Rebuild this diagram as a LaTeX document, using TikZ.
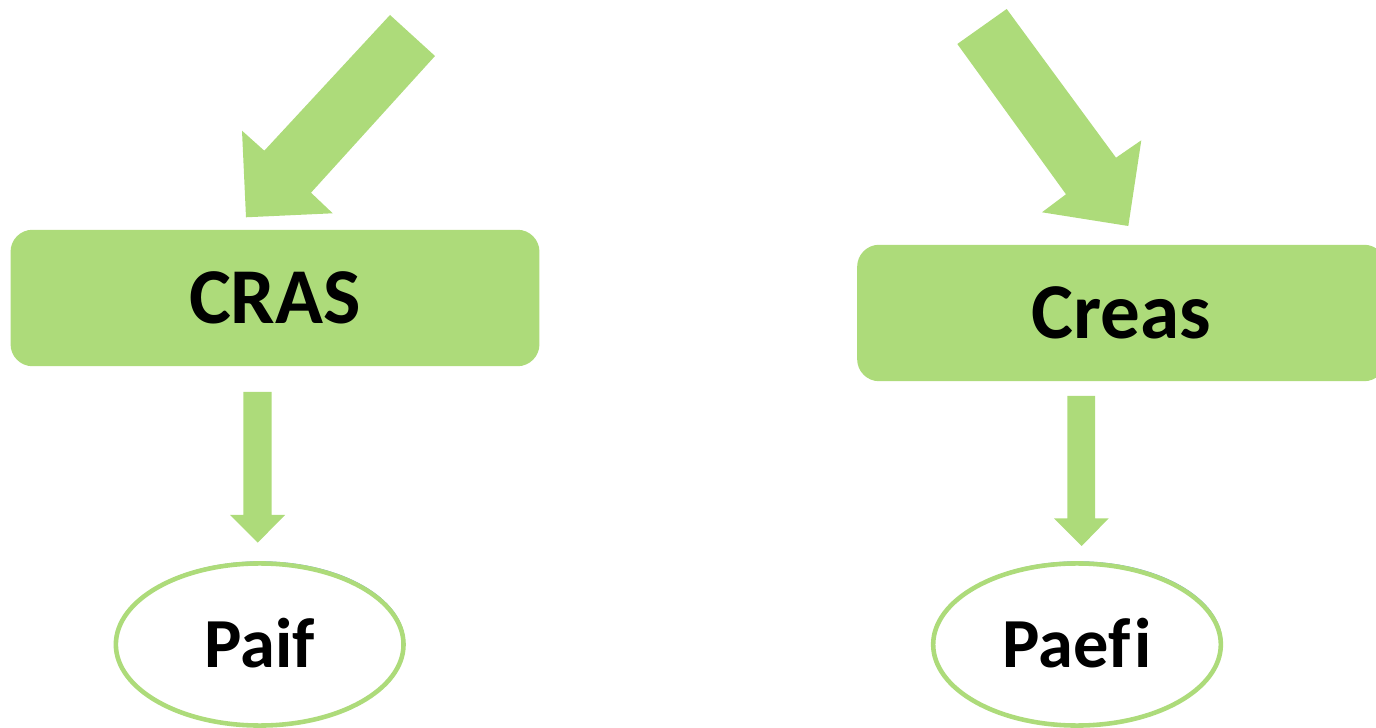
\documentclass[tikz,border=0pt]{standalone}
\usepackage{fontspec}
\setmainfont{Carlito}[Ligatures=CommonOff]
\definecolor{lgreen}{RGB}{173,219,122}
\definecolor{edgeblue}{RGB}{120,160,210}
\tikzset{
  box/.style={fill=lgreen, rounded corners=0.22cm, inner sep=0pt,
    minimum width=5.286cm, minimum height=1.364cm,
    font=\fontsize{22.5}{26}\selectfont\bfseries, text height=14.5pt, text depth=0pt},
  oval/.style={ellipse, draw=lgreen, line width=1.3pt, fill=white, inner sep=0pt,
    minimum width=2.875cm, minimum height=1.62cm,
    font=\fontsize{20}{24}\selectfont\bfseries, text height=12.9pt, text depth=0pt},
  blockarrow/.style={fill=lgreen, draw=none}
}
\usetikzlibrary{shapes.geometric}
\begin{document}
\begin{tikzpicture}[x=0.01cm,y=-0.01cm]
\useasboundingbox (0,0) rectangle (1376,728);
\begin{scope}
\clip (0,0) rectangle (1376,728);
% boxes
\node[box] (cras) at (275,298) {CRAS};
\node[box] (creas) at (1121.6,313) {Creas};
% ellipses
\draw[edgeblue, line width=0.3pt] (260.6,643.3) ellipse [x radius=144, y radius=81.5];
\draw[edgeblue, line width=0.3pt] (1078,643.3) ellipse [x radius=144, y radius=81.5];
\node[oval] (paif) at (259.7,644.5) {Paif};
\node[oval] (paefi) at (1077,644.5) {Paef\kern1pt i};
% big top arrows
\path[blockarrow] (390,15) -- (435,56) -- (311,192.7) -- (332.7,213.3) -- (246,217.3)
  -- (242,130.7) -- (264.3,150.7) -- cycle;
\path[blockarrow] (957.3,44) -- (1006.7,9) -- (1116,157.7) -- (1141.3,140.3)
  -- (1128.3,226) -- (1042,212.3) -- (1066,194.3) -- cycle;
% down arrows
\path[blockarrow] (243.3,392) -- (271.7,392) -- (271.7,515) -- (285,515)
  -- (257.7,542.7) -- (230,515) -- (243.3,515) -- cycle;
\path[blockarrow] (1067.3,396) -- (1095,396) -- (1095,518.3) -- (1108.7,518.3)
  -- (1081.7,546) -- (1054,518.3) -- (1067.3,518.3) -- cycle;
\end{scope}
\end{tikzpicture}
\end{document}
